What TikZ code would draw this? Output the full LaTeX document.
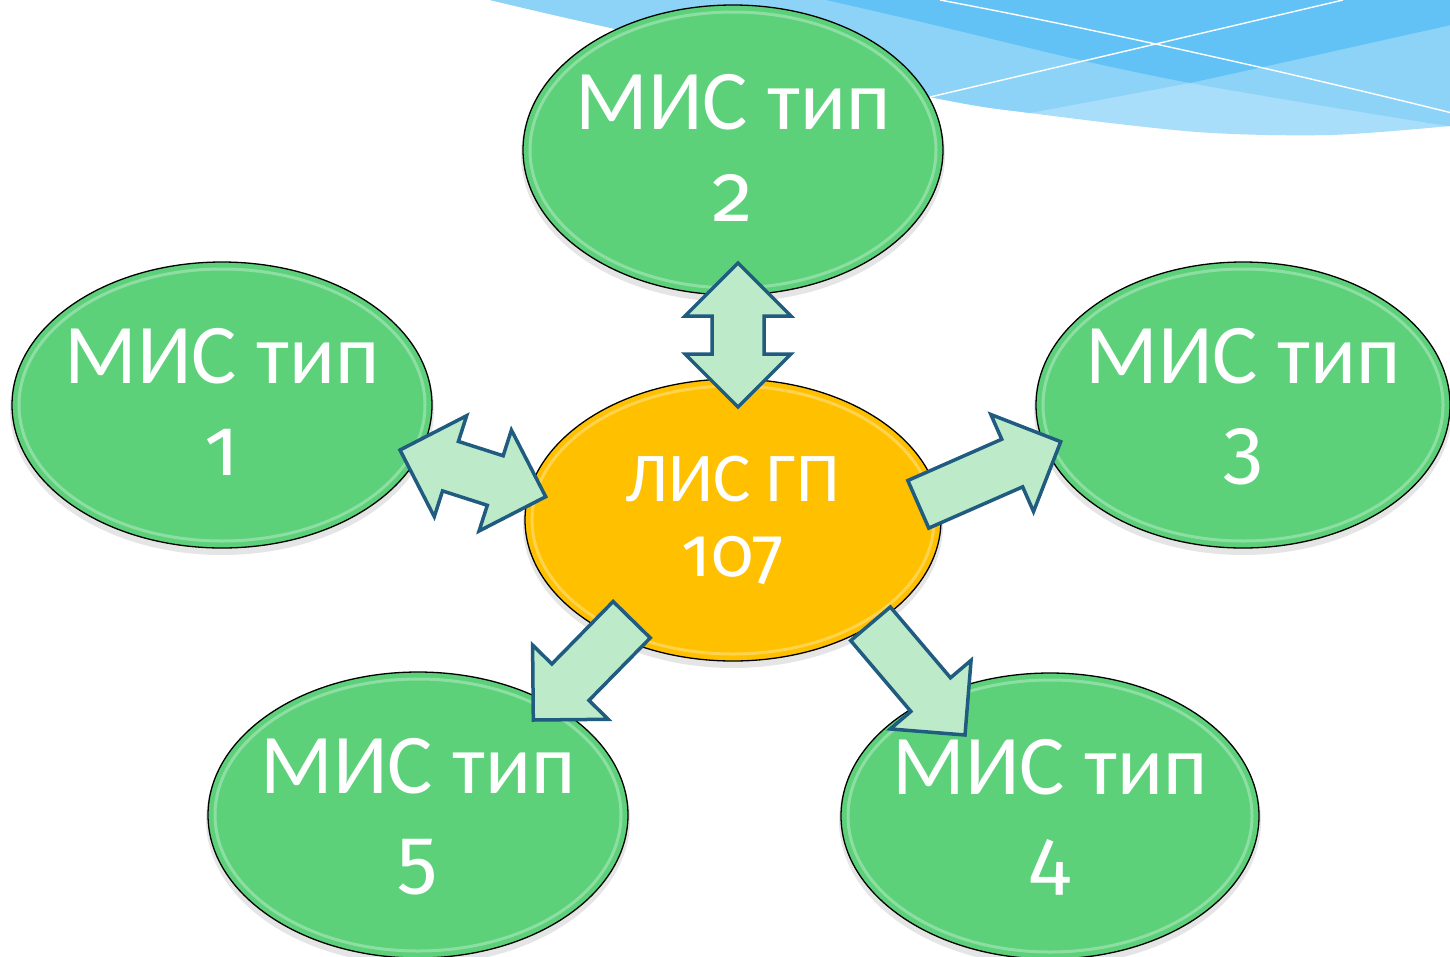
\documentclass[tikz,border=0pt]{standalone}
\usepackage{fontspec}
\setmainfont{Carlito}
\newfontfamily\numfont{Fira Sans}[Numbers=OldStyle]
\usetikzlibrary{shapes.geometric,calc}
\definecolor{ellgreen}{HTML}{5CD17A}
\definecolor{ellyellow}{HTML}{FFC000}
\definecolor{arrfill}{HTML}{BDEBCA}
\definecolor{arrline}{HTML}{1F5C80}
\definecolor{blueA}{HTML}{A9DEFA}
\definecolor{blueB}{HTML}{8DD3F8}
\definecolor{blueC}{HTML}{62C2F5}
\newcommand{\SingleBlockArrow}[3]{%
  \coordinate (#1-h) at ($(#3)!53pt!(#2)$);
  \draw[arrowbox] ($(#2)!26pt!90:(#3)$) -- ($(#1-h)!26pt!90:(#3)$) -- ($(#1-h)!53pt!90:(#3)$) -- (#3)
     -- ($(#1-h)!53pt!-90:(#3)$) -- ($(#1-h)!26pt!-90:(#3)$) -- ($(#2)!26pt!-90:(#3)$) -- cycle;
}
\newcommand{\DoubleBlockArrow}[3]{%
  \coordinate (#1-a) at ($(#2)!53pt!(#3)$);
  \coordinate (#1-b) at ($(#3)!53pt!(#2)$);
  \draw[arrowbox] (#2) -- ($(#1-a)!53pt!90:(#3)$) -- ($(#1-a)!26pt!90:(#3)$) -- ($(#1-b)!26pt!-90:(#2)$)
     -- ($(#1-b)!53pt!-90:(#2)$) -- (#3) -- ($(#1-b)!53pt!90:(#2)$) -- ($(#1-b)!26pt!90:(#2)$)
     -- ($(#1-a)!26pt!-90:(#3)$) -- ($(#1-a)!53pt!-90:(#3)$) -- cycle;
}
\begin{document}
\begin{tikzpicture}[x=1pt,y=-1pt,
  ellbase/.style={ellipse, draw=black, line width=1.3pt, inner sep=0pt},
  greenell/.style={ellbase, fill=ellgreen},
  yellowell/.style={ellbase, fill=ellyellow},
  rim/.style={white, opacity=0.3, line width=3pt},
  shadowell/.style={black, opacity=0.10},
  bigtxt/.style={text=white, font=\fontsize{85}{92}\selectfont, inner sep=0pt, anchor=base},
  bignum/.style={text=white, font=\numfont\fontsize{82}{92}\selectfont, inner sep=0pt, anchor=base},
  midtxt/.style={text=white, font=\fontsize{70}{78}\selectfont, inner sep=0pt, anchor=base},
  midnum/.style={text=white, font=\numfont\fontsize{70}{78}\selectfont, inner sep=0pt, anchor=base},
  arrowbox/.style={fill=arrfill, draw=arrline, line width=3.5pt, line join=miter}
]
\useasboundingbox (0,0) rectangle (1450,956);
\clip (0,0) rectangle (1450,956);
\fill[white] (0,0) rectangle (1450,956);

% background waves
\begin{scope}
  \clip plot[smooth] coordinates {(490,0) (620,30) (930,97) (1030,113) (1197,132) (1330,135) (1450,126)} -- (1460,126) -- (1460,-10) -- (480,-10) -- cycle;
  \fill[blueA] (480,-10) rectangle (1460,140);
  \fill[blueB] (1460,23) -- (1263,67) -- (1190,83) -- (1030,113) -- (800,157) -- (400,160) -- (400,-10) -- (1460,-10) -- cycle;
  \fill[blueB] plot[smooth] coordinates {(826,0) (930,24) (1080,60) (1190,83) (1330,107) (1460,128)} -- (1460,-10) -- (826,-10) -- cycle;
  \begin{scope}
    \clip (1460,23) -- (1263,67) -- (1190,83) -- (1030,113) -- (800,157) -- (400,160) -- (400,-10) -- (1460,-10) -- cycle;
    \fill[blueC] plot[smooth] coordinates {(826,0) (930,24) (1080,60) (1190,83) (1330,107) (1460,128)} -- (1460,-10) -- (826,-10) -- cycle;
  \end{scope}
  \draw[white, line width=1.4pt] (930,97) -- (1343,0);
  \draw[white, line width=1.4pt] (940,0) .. controls (1100,30) and (1300,75) .. (1460,115);
\end{scope}

% shadows
\fill[shadowell] (222,410) ellipse [x radius=212pt, y radius=145pt];
\fill[shadowell] (733,155) ellipse [x radius=212pt, y radius=147pt];
\fill[shadowell] (1243,410) ellipse [x radius=209pt, y radius=145pt];
\fill[shadowell] (733,525) ellipse [x radius=210pt, y radius=143pt];
\fill[shadowell] (418,820) ellipse [x radius=212pt, y radius=145pt];
\fill[shadowell] (1050,821) ellipse [x radius=211pt, y radius=145pt];

% ellipses
\node[greenell, minimum width=420pt, minimum height=286pt] (m1) at (222,405) {};
\node[greenell, minimum width=420pt, minimum height=290pt] (m2) at (733,150) {};
\node[greenell, minimum width=414pt, minimum height=286pt] (m3) at (1243,405) {};
\node[yellowell, minimum width=416pt, minimum height=282pt] (c) at (733,520) {};
\node[greenell, minimum width=420pt, minimum height=286pt] (m5) at (418,815) {};
\node[greenell, minimum width=418pt, minimum height=286pt] (m4) at (1050,816) {};

% rims
\draw[rim] (m1.center) ellipse [x radius=203pt, y radius=136pt];
\draw[rim] (m2.center) ellipse [x radius=203pt, y radius=138pt];
\draw[rim] (m3.center) ellipse [x radius=200pt, y radius=136pt];
\draw[rim] (c.center) ellipse [x radius=201pt, y radius=134pt];
\draw[rim] (m5.center) ellipse [x radius=203pt, y radius=136pt];
\draw[rim] (m4.center) ellipse [x radius=202pt, y radius=136pt];

% texts
\node[bigtxt] (m1a) at ($(m1.center)+(0,-22)$) {МИС тип};
\node[bignum] (m1b) at ($(m1.center)+(0,70)$) {1};
\node[bigtxt] (m2a) at ($(m2.center)+(0,-21)$) {МИС тип};
\node[bignum] (m2b) at ($(m2.center)+(0,71)$) {2};
\node[bigtxt] (m3a) at ($(m3.center)+(0,-22)$) {МИС тип};
\node[bignum] (m3b) at ($(m3.center)+(0,70)$) {3};
\node[bigtxt] (m5a) at ($(m5.center)+(0,-22)$) {МИС тип};
\node[bignum] (m5b) at ($(m5.center)+(0,70)$) {5};
\node[bigtxt] (m4a) at ($(m4.center)+(0,-22)$) {МИС тип};
\node[bignum] (m4b) at ($(m4.center)+(0,70)$) {4};
\node[midtxt] (ca) at ($(c.center)+(0,-19)$) {ЛИС ГП};
\node[midnum] (cb) at ($(c.center)+(0,56)$) {107};

% block arrows
\coordinate (u1) at (738,263);
\coordinate (u2) at (738,407);
\DoubleBlockArrow{ud}{u1}{u2}
\coordinate (l1) at (400,450);
\coordinate (l2) at (545.7,496.7);
\DoubleBlockArrow{lr}{l1}{l2}
\coordinate (r1) at (918.3,504.3);
\coordinate (r2) at (1060.7,441.7);
\SingleBlockArrow{ra}{r1}{r2}
\coordinate (d1) at (631.7,619.7);
\coordinate (d2) at (533.3,720);
\SingleBlockArrow{dl}{d1}{d2}
\coordinate (e1) at (870.5,623.8);
\coordinate (e2) at (965,735);
\SingleBlockArrow{dr}{e1}{e2}
\end{tikzpicture}
\end{document}
